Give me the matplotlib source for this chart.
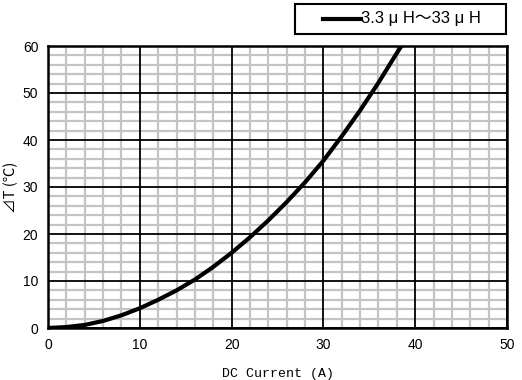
import numpy as np
import matplotlib.pyplot as plt
from matplotlib.patches import Rectangle
from matplotlib.lines import Line2D

# curve
current = [0, 2, 4, 6, 8, 10, 12, 14, 16, 18, 20, 22, 24, 26, 28, 30, 32, 34, 36, 38, 38.5]
delta_t = [0, 0.2, 0.65, 1.5, 2.7, 4.2, 6.0, 8.0, 10.3, 13.0, 16.0, 19.3, 22.9, 26.8,
           31.0, 35.6, 40.8, 46.3, 52.2, 58.5, 60.0]
series_label = "3.3 \u03bc H\uff5e33 \u03bc H"

x_ticks = [0, 10, 20, 30, 40, 50]
y_ticks = [0, 10, 20, 30, 40, 50, 60]
x_minor = [v for v in range(0, 51, 2) if v % 10]
y_minor = [v for v in range(0, 61, 2) if v % 10]

fig = plt.figure(figsize=(5.22, 3.8), dpi=100)
ax = fig.add_axes([48 / 522, 52 / 380, 459 / 522, 282 / 380])

ax.set_xlim(0, 50)
ax.set_ylim(0, 60)
ax.set_xticks(x_ticks)
ax.set_yticks(y_ticks)
ax.set_xticks(x_minor, minor=True)
ax.set_yticks(y_minor, minor=True)

# light minor grid below, black major grid drawn on top of it
ax.grid(which="minor", color="#c4c4c4", linewidth=1.6)
ax.set_axisbelow(True)
for v in x_ticks:
    ax.axvline(v, color="black", linewidth=1.3, zorder=1)
for v in y_ticks:
    ax.axhline(v, color="black", linewidth=1.3, zorder=1)

ax.tick_params(which="both", length=0, pad=7, labelsize=10, labelfontfamily="Liberation Sans")
for spine in ax.spines.values():
    spine.set_linewidth(1.8)
    spine.set_zorder(4)

ax.plot(current, delta_t, color="black", linewidth=3, zorder=3)

ax.set_xlabel("DC Current (A)", family=["Liberation Mono", "DejaVu Sans Mono"], fontsize=9.5, labelpad=12)
ax.set_ylabel("\u22bfT (\u2103)", family=["Noto Sans CJK JP", "DejaVu Sans"], fontsize=10.5, va="center")
ax.yaxis.set_label_coords(-37 / 459, 0.5)

# legend box sitting above the plot
fig.patches.append(Rectangle((295 / 522, 1 - 34 / 380), 211 / 522, 30 / 380,
                             transform=fig.transFigure, facecolor="white",
                             edgecolor="black", linewidth=1.5))
fig.lines.append(Line2D([323 / 522, 361 / 522], [1 - 19 / 380, 1 - 19 / 380],
                        transform=fig.transFigure, color="black", linewidth=3))
fig.text(361 / 522, 1 - 19 / 380, series_label, va="center", ha="left",
         fontsize=12, family=["Liberation Sans", "Noto Sans CJK JP"])

fig.savefig("out.png", dpi=100)
